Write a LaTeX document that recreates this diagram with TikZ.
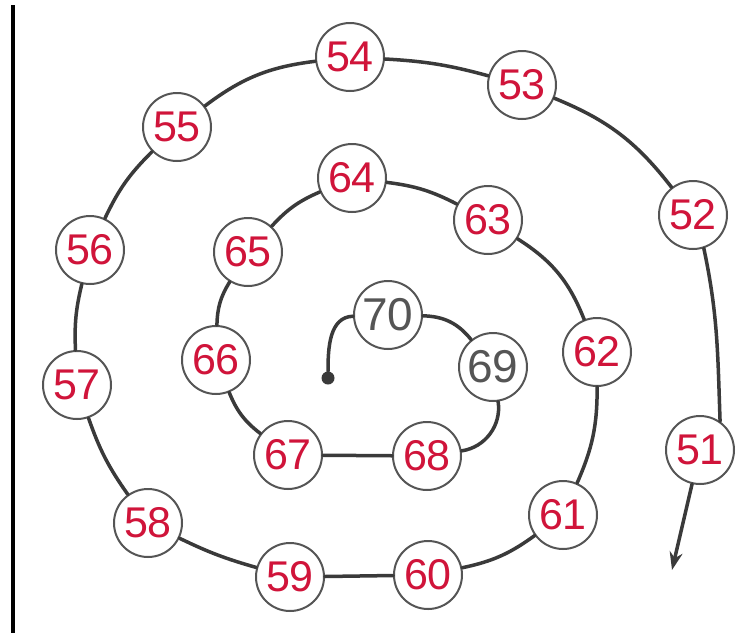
\documentclass[tikz,border=0pt]{standalone}
\usepackage{fontspec}
\setmainfont{Liberation Sans}
\usetikzlibrary{arrows.meta}
\definecolor{numred}{HTML}{D0143A}
\definecolor{ring}{HTML}{555555}
\definecolor{wire}{HTML}{3A3A3A}
\tikzset{
  num/.style={circle, draw=ring, line width=2pt, fill=white, minimum size=68pt,
    inner sep=0pt, text=numred, font=\fontsize{43}{43}\selectfont},
  printed/.style={num, text=ring, font=\fontsize{46}{46}\selectfont},
  wire/.style={draw=wire, line width=3.5pt, line cap=round},
}
\begin{document}
\begin{tikzpicture}[x=1pt,y=1pt]
\useasboundingbox (0,0) rectangle (742,-633);
\fill[white] (0,0) rectangle (742,-633);
% left border line
\coordinate (lt) at (13,-5);
\coordinate (lb) at (13,-633);
\draw[black, line width=4pt] (lt) -- (lb);
% numbered circles
\node[num] (n51) at (700,-450) {51};
\node[num] (n52) at (693,-215) {52};
\node[num] (n53) at (522,-85) {53};
\node[num] (n54) at (350,-57) {54};
\node[num] (n55) at (177,-127) {55};
\node[num] (n56) at (90,-250) {56};
\node[num] (n57) at (77,-385) {57};
\node[num] (n58) at (148,-523) {58};
\node[num] (n59) at (290,-577) {59};
\node[num] (n60) at (428,-575) {60};
\node[num] (n61) at (563,-515) {61};
\node[num] (n62) at (597,-352) {62};
\node[num] (n63) at (488,-220) {63};
\node[num] (n64) at (352,-178) {64};
\node[num] (n65) at (248,-252) {65};
\node[num] (n66) at (216,-360) {66};
\node[num] (n67) at (288,-455) {67};
\node[num] (n68) at (427,-456) {68};
\node[printed] (n69) at (493,-367) {69};
\node[printed] (n70) at (388,-315) {70};
\node[circle, fill=wire, minimum size=13pt, inner sep=0pt] (dot) at (328,-378) {};
\coordinate (end) at (672,-570);
% connectors
\draw[wire] (n70) to[out=182, in=90] (dot);
\draw[wire] (n70) to[bend left=25] (n69);
\draw[wire] (n69) to[bend left=45] (n68);
\draw[wire] (n68) -- (n67);
\draw[wire] (n67) to[bend left=15] (n66);
\draw[wire] (n66) to[bend left=15] (n65);
\draw[wire] (n65) to[bend left=12] (n64);
\draw[wire] (n64) to[bend left=10] (n63);
\draw[wire] (n63) to[bend left=18] (n62);
\draw[wire] (n62) to[bend left=12] (n61);
\draw[wire] (n61) to[bend left=12] (n60);
\draw[wire] (n60) -- (n59);
\draw[wire] (n59) to[bend left=5] (n58);
\draw[wire] (n58) to[bend left=8] (n57);
\draw[wire] (n57) to[bend left=8] (n56);
\draw[wire] (n56) to[bend left=10] (n55);
\draw[wire] (n55) to[bend left=15] (n54);
\draw[wire] (n54) to[bend left=6] (n53);
\draw[wire] (n53) to[bend left=15] (n52);
\draw[wire] (n52.-72) to[out=-78, in=92] (n51.55);
\draw[wire, -{Stealth[length=18pt, width=13pt]}] (n51) -- (end);
\end{tikzpicture}
\end{document}
